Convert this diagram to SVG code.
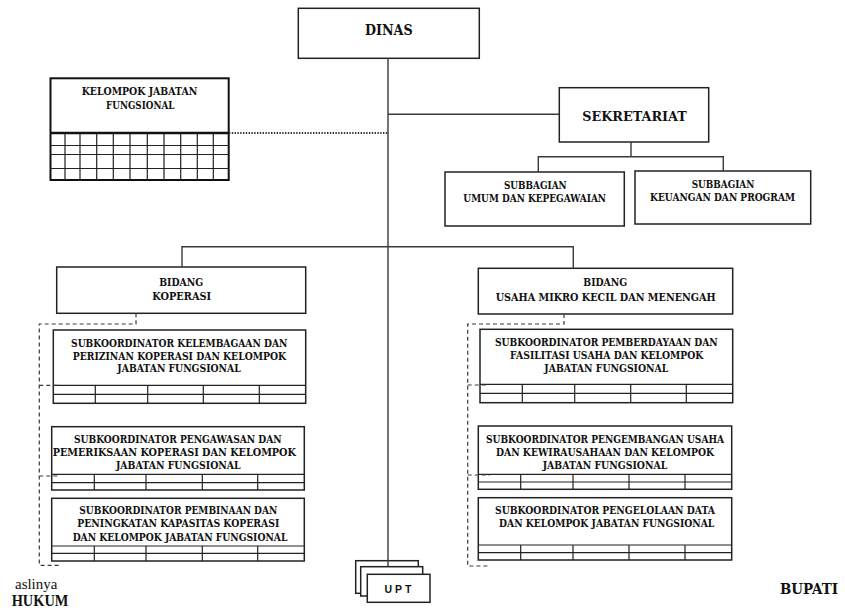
<svg xmlns="http://www.w3.org/2000/svg" width="845" height="610" viewBox="0 0 845 610">
<style>
.bx{fill:#fff;stroke:#222;stroke-width:1.5}
.gl{fill:none;stroke:#222;stroke-width:1.2}
.t{font-family:"DejaVu Serif","Liberation Serif",serif;font-weight:bold;font-size:11.2px;fill:#111;text-anchor:middle}
.c{fill:none;stroke:#3a3a3a;stroke-width:1.4}
.d{fill:none;stroke:#3a3a3a;stroke-width:1.2;stroke-dasharray:4 3}
</style>
<rect width="845" height="610" fill="#fff"/>

<g id="dinas">
<rect class="bx" x="298.3" y="8.3" width="181" height="50"/>
<text class="t" x="388.8" y="34.6" style="font-size:14.2px" textLength="47.7" lengthAdjust="spacingAndGlyphs">DINAS</text>
</g>

<g id="kelompok-jabatan-fungsional">
<rect x="50.5" y="78.3" width="178.2" height="101.7" fill="#fff" stroke="#111" stroke-width="2"/>
<path class="gl" d="M50.5 145.5H228.7M50.5 154.5H228.7M50.5 168.5H228.7M65 133V180M80 133V180M96.7 133V180M113.3 133V180M130 133V180M147.3 133V180M164 133V180M180.7 133V180M197.3 133V180M213.3 133V180"/>
<path d="M50.5 133H228.7" stroke="#111" stroke-width="2.6"/>
<text class="t" x="139.5" y="94.5" style="font-size:10.6px" textLength="115.7" lengthAdjust="spacingAndGlyphs">KELOMPOK JABATAN</text>
<text class="t" x="140.2" y="108.8" style="font-size:10.6px" textLength="68.3" lengthAdjust="spacingAndGlyphs">FUNGSIONAL</text>
</g>

<g id="sekretariat">
<rect class="bx" x="559.3" y="87.7" width="149.4" height="54.3"/>
<text class="t" x="634.5" y="121.2" style="font-size:13.8px" textLength="104.3" lengthAdjust="spacingAndGlyphs">SEKRETARIAT</text>
</g>

<g id="subbagian-umum">
<rect class="bx" x="445" y="172" width="179.3" height="54"/>
<text class="t" x="535.3" y="188.9" textLength="62.7" lengthAdjust="spacingAndGlyphs">SUBBAGIAN</text>
<text class="t" x="534.7" y="201.9" textLength="142.7" lengthAdjust="spacingAndGlyphs">UMUM DAN KEPEGAWAIAN</text>
</g>

<g id="subbagian-keuangan">
<rect class="bx" x="635" y="171" width="175.7" height="53"/>
<text class="t" x="723" y="188.2" textLength="62.7" lengthAdjust="spacingAndGlyphs">SUBBAGIAN</text>
<text class="t" x="722.5" y="200.6" textLength="145" lengthAdjust="spacingAndGlyphs">KEUANGAN DAN PROGRAM</text>
</g>

<g id="bidang-koperasi">
<rect class="bx" x="56.7" y="267" width="249" height="46.3"/>
<text class="t" x="181.2" y="285.6" textLength="44" lengthAdjust="spacingAndGlyphs">BIDANG</text>
<text class="t" x="181.7" y="299.9" textLength="58.7" lengthAdjust="spacingAndGlyphs">KOPERASI</text>
</g>

<g id="bidang-umkm">
<rect class="bx" x="478.3" y="268.3" width="254.4" height="45.7"/>
<text class="t" x="605.3" y="286.2" textLength="44" lengthAdjust="spacingAndGlyphs">BIDANG</text>
<text class="t" x="605.7" y="300.6" textLength="220" lengthAdjust="spacingAndGlyphs">USAHA MIKRO KECIL DAN MENENGAH</text>
</g>

<g id="sub-kelembagaan">
<rect class="bx" x="53.3" y="330" width="252.4" height="73.3"/>
<path class="gl" d="M53.3 385.3H305.7M53.3 394.3H305.7M95.3 385.3V403.3M147.7 385.3V403.3M203.3 385.3V403.3M259.3 385.3V403.3"/>
<text class="t" x="179.2" y="346.7" textLength="216.3" lengthAdjust="spacingAndGlyphs">SUBKOORDINATOR KELEMBAGAAN DAN</text>
<text class="t" x="179.4" y="359.7" textLength="213.3" lengthAdjust="spacingAndGlyphs">PERIZINAN KOPERASI  DAN KELOMPOK</text>
<text class="t" x="179" y="372.3" textLength="123.3" lengthAdjust="spacingAndGlyphs">JABATAN FUNGSIONAL</text>
</g>

<g id="sub-pengawasan">
<rect class="bx" x="51.7" y="426.7" width="252.6" height="63.3"/>
<path class="gl" d="M51.7 474.3H304.3M51.7 482.7H304.3M94.3 474.3V490M146 474.3V490M202.3 474.3V490M257.7 474.3V490"/>
<text class="t" x="177.8" y="443.3" textLength="207.7" lengthAdjust="spacingAndGlyphs">SUBKOORDINATOR PENGAWASAN DAN</text>
<text class="t" x="174.3" y="456.3" textLength="243.3" lengthAdjust="spacingAndGlyphs">PEMERIKSAAN KOPERASI  DAN KELOMPOK</text>
<text class="t" x="178.3" y="469" textLength="124.7" lengthAdjust="spacingAndGlyphs">JABATAN FUNGSIONAL</text>
</g>

<g id="sub-pembinaan">
<rect class="bx" x="51.7" y="498.3" width="252.6" height="62.7"/>
<path class="gl" d="M51.7 546H304.3M51.7 553.3H304.3M94.3 546V561M146 546V561M202.3 546V561M257.7 546V561"/>
<text class="t" x="178.3" y="514" textLength="198" lengthAdjust="spacingAndGlyphs">SUBKOORDINATOR PEMBINAAN DAN</text>
<text class="t" x="178.3" y="527.3" textLength="202" lengthAdjust="spacingAndGlyphs">PENINGKATAN KAPASITAS KOPERASI</text>
<text class="t" x="180" y="541" textLength="214.7" lengthAdjust="spacingAndGlyphs">DAN KELOMPOK JABATAN FUNGSIONAL</text>
</g>

<g id="sub-pemberdayaan">
<rect class="bx" x="480" y="329.3" width="252.7" height="73.4"/>
<path class="gl" d="M480 384.3H732.7M480 393.3H732.7M522.3 384.3V402.7M574.7 384.3V402.7M630.7 384.3V402.7M686.3 384.3V402.7"/>
<text class="t" x="606.3" y="346" textLength="222.7" lengthAdjust="spacingAndGlyphs">SUBKOORDINATOR PEMBERDAYAAN DAN</text>
<text class="t" x="606.7" y="358.7" textLength="193.3" lengthAdjust="spacingAndGlyphs">FASILITASI USAHA DAN KELOMPOK</text>
<text class="t" x="606.3" y="371.7" textLength="124" lengthAdjust="spacingAndGlyphs">JABATAN FUNGSIONAL</text>
</g>

<g id="sub-pengembangan">
<rect class="bx" x="478.3" y="426" width="253.4" height="63.3"/>
<path class="gl" d="M478.3 474.3H731.7M478.3 482H731.7M520.7 474.3V489.3M573 474.3V489.3M629 474.3V489.3M685 474.3V489.3"/>
<text class="t" x="605" y="443.3" textLength="238" lengthAdjust="spacingAndGlyphs">SUBKOORDINATOR PENGEMBANGAN USAHA</text>
<text class="t" x="605" y="456.3" textLength="218" lengthAdjust="spacingAndGlyphs">DAN KEWIRAUSAHAAN  DAN KELOMPOK</text>
<text class="t" x="605" y="469" textLength="124.7" lengthAdjust="spacingAndGlyphs">JABATAN FUNGSIONAL</text>
</g>

<g id="sub-pengelolaan-data">
<rect class="bx" x="478.3" y="497.7" width="253.4" height="62.3"/>
<path class="gl" d="M478.3 545H731.7M478.3 552.7H731.7M520.7 545V560M573 545V560M629 545V560M685 545V560"/>
<text class="t" x="605" y="514" textLength="220" lengthAdjust="spacingAndGlyphs">SUBKOORDINATOR PENGELOLAAN DATA</text>
<text class="t" x="606.7" y="527.3" textLength="215.3" lengthAdjust="spacingAndGlyphs">DAN KELOMPOK JABATAN FUNGSIONAL</text>
</g>

<g id="upt">
<rect class="bx" x="355.7" y="560.7" width="62.6" height="32.6"/>
<rect class="bx" x="360.7" y="566.7" width="62" height="29.3"/>
<rect class="bx" x="367.3" y="574.3" width="62.7" height="28"/>
<text x="399.5" y="593.3" text-anchor="middle" font-family="Liberation Sans, Arial, sans-serif" font-weight="bold" font-size="10.5" letter-spacing="3" fill="#111">UPT</text>
</g>

<g id="connectors">
<path class="c" d="M388 58.3V566"/>
<path class="c" d="M388 114.3H559.3"/>
<path class="c" d="M631 142V156.7M538.3 172V156.7H723.3V171"/>
<path class="c" d="M182 267V246.7H573.3V268.3"/>
<path d="M229 133H388" fill="none" stroke="#333" stroke-width="2.2" stroke-dasharray="1.4 1.4"/>
<path class="d" d="M136 313.3V324H39.3V565.3H60M39.3 385.3H60.7M39.3 476H60"/>
<path class="d" d="M564 314V324H467.7V566H490M467.7 385H488M467.7 475H490"/>
</g>

<g id="footer">
<text x="15" y="588.5" font-family="Liberation Serif, Times New Roman, serif" font-size="15" fill="#111" textLength="42.3" lengthAdjust="spacingAndGlyphs">aslinya</text>
<text x="11.7" y="605.5" font-family="Liberation Serif, Times New Roman, serif" font-weight="bold" font-size="17" fill="#111" textLength="56.7" lengthAdjust="spacingAndGlyphs">HUKUM</text>
<text x="780" y="593.7" font-family="DejaVu Serif, Liberation Serif, serif" font-weight="bold" font-size="14.5" fill="#111" textLength="58" lengthAdjust="spacingAndGlyphs">BUPATI</text>
</g>
</svg>
